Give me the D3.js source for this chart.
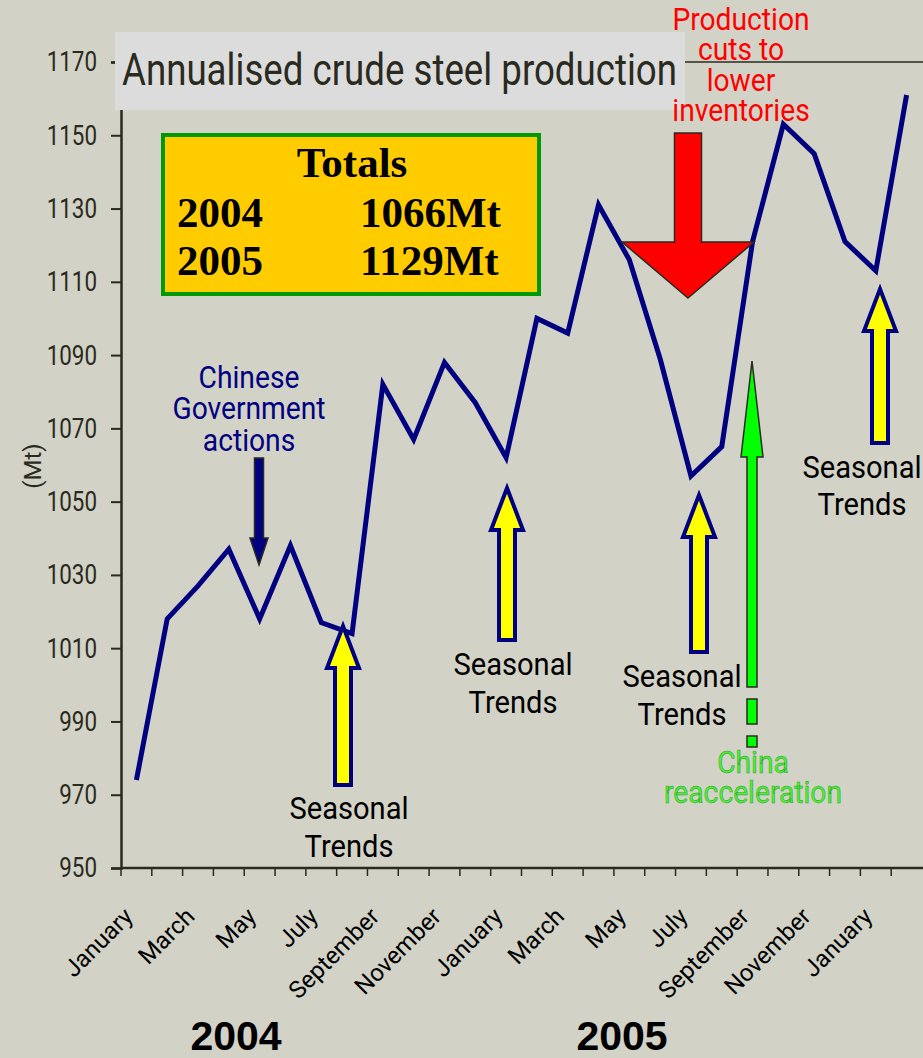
<!DOCTYPE html>
<html>
<head>
<meta charset="utf-8">
<script src="https://cdn.jsdelivr.net/npm/d3@7"></script>
<style>
  body { margin: 0; background: #d2d2c6; }
  svg { display: block; font-family: Roboto, "Liberation Sans", sans-serif; }
</style>
</head>
<body>
<svg width="923" height="1058"></svg>
<script>
// monthly annualised production, Jan 2004 .. Feb 2006
const months = ["Jan04","Feb04","Mar04","Apr04","May04","Jun04","Jul04","Aug04","Sep04","Oct04","Nov04","Dec04",
  "Jan05","Feb05","Mar05","Apr05","May05","Jun05","Jul05","Aug05","Sep05","Oct05","Nov05","Dec05",
  "Jan06","Feb06"];
const production = [974, 1018, 1027, 1037, 1018, 1038, 1017, 1014, 1082, 1067, 1088, 1077,
  1062, 1100, 1096, 1131, 1116, 1089, 1057, 1065, 1121, 1153, 1145, 1121, 1113, 1161];
const monthLabels = ["January","","March","","May","","July","","September","","November","",
  "January","","March","","May","","July","","September","","November","","January",""];
const yTicks = [950, 970, 990, 1010, 1030, 1050, 1070, 1090, 1110, 1130, 1150, 1170];
const totals = [["2004", "1066Mt"], ["2005", "1129Mt"]];

const svg = d3.select("svg");
const ink = "#2a2a20", navy = "#000080";

const x = d3.scaleBand().domain(months).range([121, 922]);
const y = d3.scaleLinear().domain([950, 1170]).range([868, 62]);
const cx = function(d) { return x(d) + x.bandwidth() / 2; };

// top frame line
svg.append("line").attr("x1", 121).attr("x2", 923).attr("y1", y(1170)).attr("y2", y(1170))
  .attr("stroke", ink).attr("stroke-width", 1.5);

// y axis
const gy = svg.append("g").attr("transform", "translate(121,0)")
  .call(d3.axisLeft(y).tickValues(yTicks).tickSize(10).tickFormat(d3.format("d")));
gy.select(".domain").attr("stroke", ink).attr("stroke-width", 2.5);
gy.selectAll(".tick line").attr("stroke", ink).attr("stroke-width", 2);
gy.selectAll(".tick text").attr("x", 0).attr("transform", "translate(-24,0) scale(0.8,1)")
  .attr("fill", ink).attr("font-size", 28).attr("font-family", "Roboto, sans-serif");

// x axis
const gx = svg.append("g").attr("transform", "translate(0,868)");
gx.append("line").attr("x1", 121).attr("x2", 923).attr("stroke", ink).attr("stroke-width", 2.5);
gx.selectAll("line.t").data(months).enter().append("line").attr("class", "t")
  .attr("x1", function(d) { return x(d); }).attr("x2", function(d) { return x(d); })
  .attr("y1", 0).attr("y2", 8).attr("stroke", ink).attr("stroke-width", 1.5);
gx.selectAll("text").data(months).enter().append("text")
  .attr("transform", function(d) { return "translate(" + (cx(d) - 2) + ",50) rotate(-45)"; })
  .attr("text-anchor", "end").attr("font-size", 24).attr("fill", "#000")
  .text(function(d, i) { return monthLabels[i]; });

svg.append("text").attr("transform", "translate(41,466) rotate(-90)")
  .attr("text-anchor", "middle").attr("font-size", 24).attr("fill", ink).text("(Mt)");

// year labels
svg.selectAll("text.year").data([["2004", 236], ["2005", 622]]).enter().append("text")
  .attr("class", "year").attr("x", function(d) { return d[1]; }).attr("y", 1050)
  .attr("text-anchor", "middle").attr("font-family", "Liberation Sans, Arial, sans-serif")
  .attr("font-weight", "bold").attr("font-size", 41).attr("fill", "#000")
  .text(function(d) { return d[0]; });

// title
svg.append("rect").attr("x", 115).attr("y", 32).attr("width", 570).attr("height", 78).attr("fill", "#dcdcdc");
svg.append("text").attr("x", 122).attr("y", 85).attr("font-size", 44).attr("fill", ink)
  .attr("textLength", 555).attr("lengthAdjust", "spacingAndGlyphs")
  .text("Annualised crude steel production");

// totals box
svg.append("rect").attr("x", 163).attr("y", 135).attr("width", 376).attr("height", 159)
  .attr("fill", "#ffcc00").attr("stroke", "#009900").attr("stroke-width", 4);
const tf = "Liberation Serif, Times New Roman, serif";
svg.append("text").attr("x", 352).attr("y", 177).attr("text-anchor", "middle")
  .attr("font-family", tf).attr("font-weight", "bold").attr("font-size", 43).text("Totals");
totals.forEach(function(r, i) {
  svg.append("text").attr("x", 177).attr("y", 227 + i * 48).attr("font-family", tf)
    .attr("font-weight", "bold").attr("font-size", 43).text(r[0]);
  svg.append("text").attr("x", 360).attr("y", 227 + i * 48).attr("font-family", tf)
    .attr("font-weight", "bold").attr("font-size", 43).text(r[1]);
});

// data line
const line = d3.line().x(function(d, i) { return cx(months[i]); }).y(function(d) { return y(d); });
svg.append("path").datum(production).attr("d", line).attr("fill", "none")
  .attr("stroke", navy).attr("stroke-width", 5).attr("stroke-linejoin", "miter");

// vertical arrows: x, tip, tail, shaft half width, head half width, head length
function arrow(ax, tip, tail, sw, hw, hl, fill, stroke, sWidth) {
  const dir = tail > tip ? 1 : -1;
  const hb = tip + dir * hl;
  const pts = [[ax, tip], [ax + hw, hb], [ax + sw, hb], [ax + sw, tail], [ax - sw, tail], [ax - sw, hb], [ax - hw, hb]];
  svg.append("path").attr("d", d3.line()(pts) + "Z").attr("fill", fill)
    .attr("stroke", stroke).attr("stroke-width", sWidth).attr("stroke-linejoin", "miter");
}

// seasonal arrows
[[343, 626, 785], [507, 488, 640], [699, 495, 652], [880, 289, 443]].forEach(function(a) {
  arrow(a[0], a[1], a[2], 8, 16, 42, "#ffff00", navy, 4);
});
// chinese government arrow
arrow(259, 565, 458, 4.5, 9, 27, navy, ink, 1.5);
// production cut arrow
arrow(688, 298, 133, 13.5, 66, 56, "#ff0000", ink, 1.5);
// green arrow + dashes
arrow(752, 361, 687, 5, 11, 96, "#00ff00", ink, 1.5);
svg.append("rect").attr("x", 747).attr("y", 699).attr("width", 10).attr("height", 25)
  .attr("fill", "#00ff00").attr("stroke", ink).attr("stroke-width", 1.5);
svg.append("rect").attr("x", 747).attr("y", 736).attr("width", 10).attr("height", 11)
  .attr("fill", "#00ff00").attr("stroke", ink).attr("stroke-width", 1.5);

// annotation text, squeezed horizontally to mimic a condensed face
function note(lines, ax, y0, lh, color, size) {
  const t = svg.append("text").attr("text-anchor", "middle")
    .attr("transform", "translate(" + ax + ",0) scale(0.91,1)")
    .attr("font-size", size).attr("fill", color);
  lines.forEach(function(l, i) {
    t.append("tspan").attr("x", 0).attr("y", y0 + i * lh).text(l);
  });
  return t;
}
note(["Production", "cuts to", "lower", "inventories"], 741, 30, 30.3, "#ff0000", 31);
note(["Chinese", "Government", "actions"], 249, 388, 31.5, navy, 31);
note(["Seasonal", "Trends"], 349, 819, 38, "#000", 32);
note(["Seasonal", "Trends"], 513, 675, 38, "#000", 32);
note(["Seasonal", "Trends"], 682, 687, 38, "#000", 32);
note(["Seasonal", "Trends"], 862, 478, 37, "#000", 32);
note(["China", "reacceleration"], 753, 773, 30, "#44f033", 31)
  .attr("stroke", "#3a9a30").attr("stroke-width", 0.5);
</script>
</body>
</html>
